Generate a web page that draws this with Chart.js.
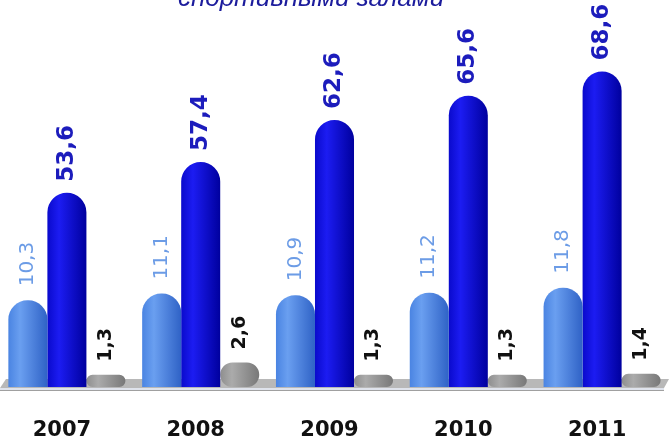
<!DOCTYPE html>
<html>
<head>
<meta charset="utf-8">
<script src="https://cdn.jsdelivr.net/npm/chart.js@4.4.1/dist/chart.umd.min.js"></script>
<style>
  body { margin: 0; background: #fff; }
  #wrap { position: relative; width: 669px; height: 442px; }
</style>
</head>
<body>
<div id="wrap"><canvas id="canvas"></canvas></div>
<script>
const years = ["2007", "2008", "2009", "2010", "2011"];
const seriesLight = [10.3, 11.1, 10.9, 11.2, 11.8];
const seriesDark = [53.6, 57.4, 62.6, 65.6, 68.6];
const seriesGray = [1.3, 2.6, 1.3, 1.3, 1.4];
const titleText = "спортивными залами";

const CAT_PCT = 0.875;

// horizontal gradient so the bars look like cylinders
function cylinder(stops, dsIndex) {
  return function (context) {
    const chart = context.chart;
    const area = chart.chartArea;
    if (!area) return stops[1];
    const cat = (area.right - area.left) / years.length;
    const bw = (cat * CAT_PCT) / 3;
    const left = area.left + cat * context.dataIndex + (cat * (1 - CAT_PCT)) / 2 + dsIndex * bw;
    const g = chart.ctx.createLinearGradient(left, 0, left + bw, 0);
    g.addColorStop(0, stops[0]);
    g.addColorStop(0.3, stops[1]);
    g.addColorStop(1, stops[2]);
    return g;
  };
}

function fmt(v) {
  return v.toFixed(1).replace(".", ",");
}

const floorPlugin = {
  id: "floor",
  beforeDatasetsDraw(chart) {
    const ctx = chart.ctx;
    const b = chart.chartArea.bottom;
    ctx.save();
    ctx.fillStyle = "#b8b8b8";
    ctx.beginPath();
    ctx.moveTo(6, b - 8);
    ctx.lineTo(669, b - 8);
    ctx.lineTo(664, b + 1);
    ctx.lineTo(0, b + 1);
    ctx.closePath();
    ctx.fill();
    ctx.fillStyle = "#dfe3ec";
    ctx.fillRect(0, b + 1, 664, 2);
    ctx.fillStyle = "#a0a0a0";
    ctx.fillRect(0, b + 3, 664, 1);
    ctx.restore();
  },
};

const labelPlugin = {
  id: "barLabels",
  afterDatasetsDraw(chart) {
    const ctx = chart.ctx;
    chart.data.datasets.forEach((ds, i) => {
      const meta = chart.getDatasetMeta(i);
      meta.data.forEach((bar, j) => {
        ctx.save();
        ctx.translate(bar.x, bar.y - ds.labelGap);
        ctx.rotate(-Math.PI / 2);
        ctx.font = ds.labelFont;
        ctx.fillStyle = ds.labelColor;
        ctx.textAlign = "left";
        ctx.textBaseline = "middle";
        ctx.fillText(fmt(ds.data[j]), 0, 0);
        ctx.restore();
      });
    });
  },
};

const titlePlugin = {
  id: "cutTitle",
  afterDraw(chart) {
    const ctx = chart.ctx;
    ctx.save();
    ctx.font = "italic 26px 'Liberation Sans'";
    ctx.fillStyle = "#1c1c9c";
    ctx.textAlign = "center";
    ctx.textBaseline = "alphabetic";
    ctx.fillText(titleText, 311, 6);
    ctx.restore();
  },
};

const config = {
  type: "bar",
  data: {
    labels: years,
    datasets: [
      {
        data: seriesLight,
        yAxisID: "y",
        backgroundColor: cylinder(["#4a84e2", "#6a9ff0", "#2f62c6"], 0),
        borderRadius: { topLeft: 19, topRight: 19 },
        borderSkipped: "bottom",
        labelGap: 14,
        labelColor: "#6c9ce6",
        labelFont: "20px 'DejaVu Sans'",
      },
      {
        data: seriesDark,
        yAxisID: "y2",
        backgroundColor: cylinder(["#0a0acc", "#1c1cf2", "#00009e"], 1),
        borderRadius: { topLeft: 20, topRight: 20 },
        borderSkipped: "bottom",
        labelGap: 11,
        labelColor: "#1c1cbc",
        labelFont: "bold 23px 'DejaVu Sans'",
      },
      {
        data: seriesGray,
        yAxisID: "y3",
        backgroundColor: cylinder(["#8e8e8e", "#ababab", "#787878"], 2),
        borderRadius: 19,
        borderSkipped: false,
        labelGap: 13,
        labelColor: "#111111",
        labelFont: "bold 19px 'DejaVu Sans'",
      },
    ],
  },
  options: {
    responsive: true,
    maintainAspectRatio: false,
    animation: false,
    layout: { padding: 0 },
    datasets: {
      bar: { categoryPercentage: CAT_PCT, barPercentage: 1.0 },
    },
    plugins: {
      legend: { display: false },
      title: { display: false },
      tooltip: { enabled: false },
    },
    scales: {
      x: {
        grid: { display: false, drawTicks: false },
        border: { display: false },
        ticks: {
          color: "#111",
          font: { family: "DejaVu Sans", size: 21, weight: "bold" },
          padding: 31,
          labelOffset: -5,
        },
        afterFit(scale) {
          scale.height = 55;
        },
      },
      y: { display: false, min: 0, max: 46 },
      y2: { display: false, min: 29.55, max: 77.45 },
      y3: { display: false, min: 0, max: 41 },
    },
  },
  plugins: [floorPlugin, labelPlugin, titlePlugin],
};

window.onload = function () {
  const ctx = document.getElementById("canvas").getContext("2d");
  new Chart(ctx, config);
};
</script>
</body>
</html>
